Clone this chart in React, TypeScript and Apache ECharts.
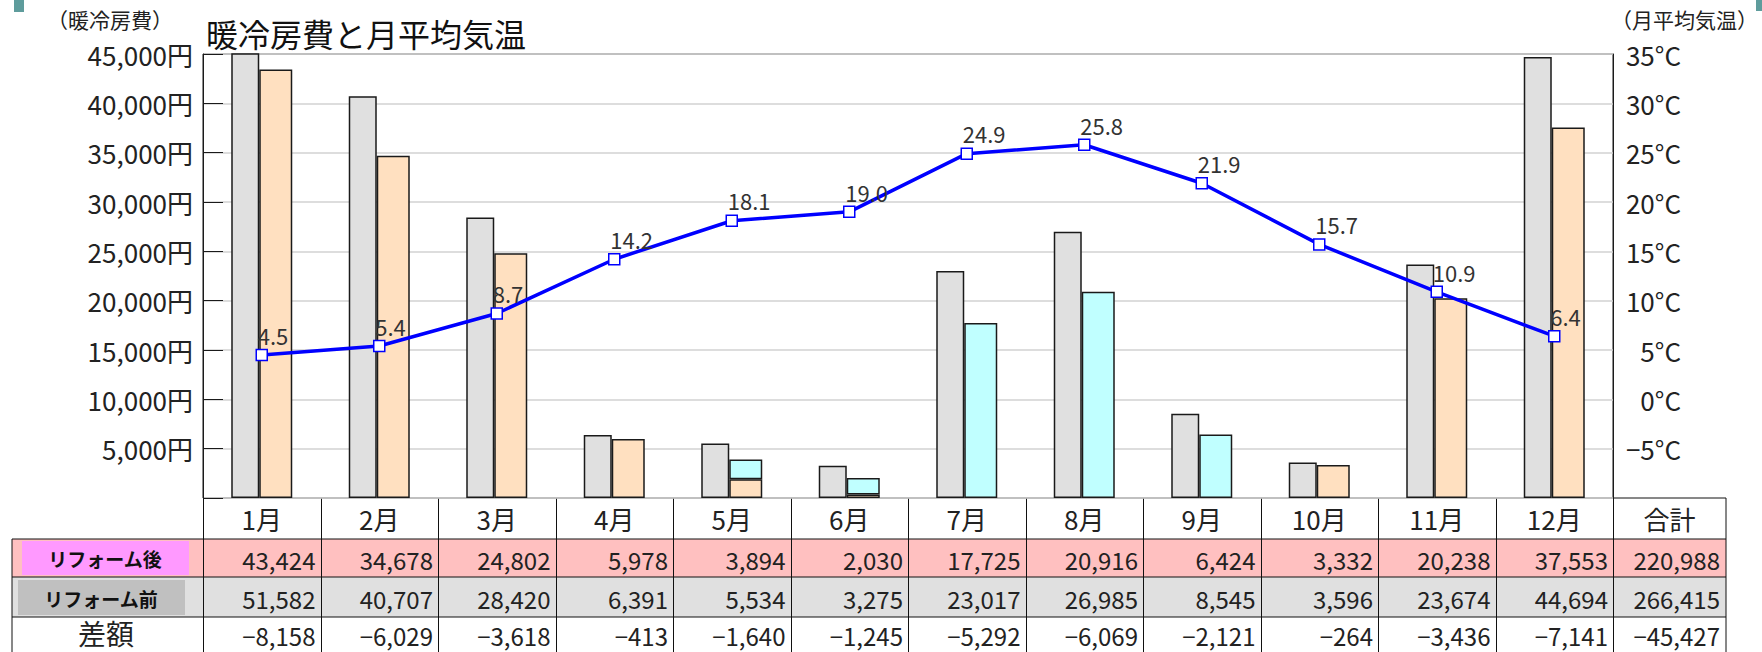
import React, { useEffect, useRef } from 'react';
import * as echarts from 'echarts';

const months = ['1月', '2月', '3月', '4月', '5月', '6月', '7月', '8月', '9月', '10月', '11月', '12月'];
const costBefore = [51582, 40707, 28420, 6391, 5534, 3275, 23017, 26985, 8545, 3596, 23674, 44694];
const costAfter = [43424, 34678, 24802, 5978, 3894, 2030, 17725, 20916, 6424, 3332, 20238, 37553];
// after-reform cost split into heating (peach) and cooling (cyan) parts
const afterHeating: (number | string)[] = [43424, 34678, 24802, 5978, 1900, 350, '-', '-', '-', 3332, 20238, 37553];
const afterCooling: (number | string)[] = ['-', '-', '-', '-', 1994, 1680, 17725, 20916, 6424, '-', '-', '-'];
const temperature = [4.5, 5.4, 8.7, 14.2, 18.1, 19.0, 24.9, 25.8, 21.9, 15.7, 10.9, 6.4];
const costDiff = [-8158, -6029, -3618, -413, -1640, -1245, -5292, -6069, -2121, -264, -3436, -7141];
const totals = { after: 220988, before: 266415, diff: -45427 };
const rowLabels = { after: 'リフォーム後', before: 'リフォーム前', diff: '差額', total: '合計' };

const FONT = "'Noto Sans CJK JP', 'Noto Sans', sans-serif";

const GRID_LEFT = 203;
const GRID_TOP = 54;
const GRID_W = 1410;
const GRID_H = 444;
const GRID_BOTTOM = GRID_TOP + GRID_H;
const TABLE_LEFT = 12;
const TOTAL_RIGHT = 1726;
const ROW_Y = [GRID_BOTTOM, 539, 577, 617, 652];

const fmt = (v: number) => {
  const s = Math.abs(v).toLocaleString('en-US');
  return v < 0 ? '−' + s : s;
};

export default function App() {
  const ref = useRef<HTMLDivElement>(null);

  useEffect(() => {
    if (!ref.current) return;
    const chart = echarts.init(ref.current, undefined, { renderer: 'svg' });
    const colW = GRID_W / months.length;

    const graphics: any[] = [];
    // decorations
    graphics.push({ type: 'rect', shape: { x: 14, y: 0, width: 10, height: 12 }, style: { fill: '#5e9c9c' } });
    graphics.push({ type: 'rect', shape: { x: 1756, y: 0, width: 6, height: 11 }, style: { fill: '#5e9c9c' } });
    // axis names
    graphics.push({
      type: 'text', x: 110, y: 19,
      style: { text: '（暖冷房費）', font: `21px ${FONT}`, fill: '#222', align: 'center', verticalAlign: 'middle' },
    });
    graphics.push({
      type: 'text', x: 1758, y: 19,
      style: { text: '（月平均気温）', font: `21px ${FONT}`, fill: '#222', align: 'right', verticalAlign: 'middle' },
    });

    // table backgrounds
    graphics.push({ type: 'rect', shape: { x: TABLE_LEFT, y: ROW_Y[1], width: TOTAL_RIGHT - TABLE_LEFT, height: ROW_Y[2] - ROW_Y[1] }, style: { fill: '#ffc0c0' } });
    graphics.push({ type: 'rect', shape: { x: TABLE_LEFT, y: ROW_Y[2], width: TOTAL_RIGHT - TABLE_LEFT, height: ROW_Y[3] - ROW_Y[2] }, style: { fill: '#e0e0e0' } });
    graphics.push({ type: 'rect', shape: { x: 22, y: 541, width: 167, height: 34 }, style: { fill: '#ff99ff' } });
    graphics.push({ type: 'rect', shape: { x: 18, y: 580, width: 167, height: 35 }, style: { fill: '#c0c0c0' } });

    // row label texts
    graphics.push({ type: 'text', x: 105, y: 558, style: { text: rowLabels.after, font: `bold 19px ${FONT}`, fill: '#111', align: 'center', verticalAlign: 'middle' } });
    graphics.push({ type: 'text', x: 101, y: 598, style: { text: rowLabels.before, font: `bold 19px ${FONT}`, fill: '#111', align: 'center', verticalAlign: 'middle' } });
    graphics.push({ type: 'text', x: 106, y: 633, style: { text: rowLabels.diff, font: `28px ${FONT}`, fill: '#222', align: 'center', verticalAlign: 'middle' } });

    const lineStyle = { stroke: '#111', lineWidth: 1 };
    // horizontal lines
    graphics.push({ type: 'line', shape: { x1: GRID_LEFT + GRID_W, y1: ROW_Y[0], x2: TOTAL_RIGHT, y2: ROW_Y[0] }, style: lineStyle });
    for (let r = 1; r <= 3; r++) {
      graphics.push({ type: 'line', shape: { x1: TABLE_LEFT, y1: ROW_Y[r], x2: TOTAL_RIGHT, y2: ROW_Y[r] }, style: lineStyle });
    }
    // vertical lines
    graphics.push({ type: 'line', shape: { x1: TABLE_LEFT, y1: ROW_Y[1], x2: TABLE_LEFT, y2: 652 }, style: lineStyle });
    for (let i = 0; i <= months.length; i++) {
      const x = Math.round(GRID_LEFT + i * colW) + 0.5;
      graphics.push({ type: 'line', shape: { x1: x, y1: ROW_Y[0], x2: x, y2: 652 }, style: lineStyle });
    }
    graphics.push({ type: 'line', shape: { x1: TOTAL_RIGHT, y1: ROW_Y[0], x2: TOTAL_RIGHT, y2: 652 }, style: lineStyle });

    const cellText = (text: string, cx: number, cy: number, align: string, size = 24) => ({
      type: 'text', x: cx, y: cy,
      style: { text, font: `${size}px ${FONT}`, fill: '#222', align, verticalAlign: 'middle' },
    });
    const rowCenters = [(ROW_Y[0] + ROW_Y[1]) / 2, (ROW_Y[1] + ROW_Y[2]) / 2 + 1, (ROW_Y[2] + ROW_Y[3]) / 2 + 1, 635];
    months.forEach((m, i) => {
      const x0 = GRID_LEFT + i * colW;
      graphics.push(cellText(m, x0 + colW / 2, rowCenters[0], 'center', 26));
      graphics.push(cellText(fmt(costAfter[i]), x0 + colW - 5, rowCenters[1], 'right'));
      graphics.push(cellText(fmt(costBefore[i]), x0 + colW - 5, rowCenters[2], 'right'));
      graphics.push(cellText(fmt(costDiff[i]), x0 + colW - 5, rowCenters[3], 'right'));
    });
    const tx0 = GRID_LEFT + GRID_W;
    graphics.push(cellText(rowLabels.total, (tx0 + TOTAL_RIGHT) / 2, rowCenters[0], 'center', 26));
    graphics.push(cellText(fmt(totals.after), TOTAL_RIGHT - 6, rowCenters[1], 'right'));
    graphics.push(cellText(fmt(totals.before), TOTAL_RIGHT - 6, rowCenters[2], 'right'));
    graphics.push(cellText(fmt(totals.diff), TOTAL_RIGHT - 6, rowCenters[3], 'right'));

    const barBorder = { borderColor: '#1a1a1a', borderWidth: 1.5 };

    chart.setOption({
      animation: false,
      backgroundColor: '#ffffff',
      textStyle: { fontFamily: FONT },
      title: {
        text: '暖冷房費と月平均気温',
        left: 206,
        top: 17,
        padding: 0,
        textStyle: { fontSize: 32, fontWeight: 'normal', color: '#111', fontFamily: FONT },
      },
      grid: {
        left: GRID_LEFT, top: GRID_TOP, width: GRID_W, height: GRID_H,
        show: true, borderColor: '#1a1a1a', borderWidth: 1, backgroundColor: '#fff',
      },
      xAxis: {
        type: 'category',
        data: months,
        axisLine: { show: false },
        axisTick: { show: false },
        axisLabel: { show: false },
        splitLine: { show: false },
      },
      yAxis: [
        {
          type: 'value', min: 0, max: 45000, interval: 5000, position: 'left',
          axisLine: { show: true, lineStyle: { color: '#1a1a1a', width: 1 } },
          axisTick: { show: true, inside: true, length: 20, lineStyle: { color: '#1a1a1a', width: 1 } },
          splitLine: { show: true, lineStyle: { color: '#d2d2d2', width: 1.5 } },
          axisLabel: {
            fontSize: 26, color: '#222', margin: 10, fontFamily: FONT,
            formatter: (v: number) => (v === 0 ? '' : v.toLocaleString('en-US') + '円'),
          },
        },
        {
          type: 'value', min: -10, max: 35, interval: 5, position: 'right',
          axisLine: { show: true, lineStyle: { color: '#1a1a1a', width: 1 } },
          axisTick: { show: false },
          splitLine: { show: false },
          axisLabel: {
            fontSize: 26, color: '#222', margin: 68, align: 'right', fontFamily: FONT,
            formatter: (v: number) => (v === -10 ? '' : (v < 0 ? '−' + Math.abs(v) : String(v)) + '°C'),
          },
        },
      ],
      series: [
        {
          name: rowLabels.before, type: 'bar', data: costBefore, barWidth: 28, barGap: '0%',
          itemStyle: { color: '#e0e0e0', ...barBorder },
        },
        {
          name: '暖房', type: 'bar', stack: 'after', data: afterHeating, barWidth: 33,
          itemStyle: { color: '#ffe0c0', ...barBorder },
        },
        {
          name: '冷房', type: 'bar', stack: 'after', data: afterCooling, barWidth: 33,
          itemStyle: { color: '#c0ffff', ...barBorder },
        },
        {
          name: '月平均気温', type: 'line', yAxisIndex: 1, data: temperature, z: 10,
          symbol: 'rect', symbolSize: 11,
          lineStyle: { color: '#0000ff', width: 3.5 },
          itemStyle: { color: '#ffffff', borderColor: '#0000ff', borderWidth: 1.5 },
          label: {
            show: true, position: 'top', align: 'left', offset: [-4, 0], distance: 3,
            fontSize: 22, color: '#333', fontFamily: FONT,
            formatter: (p: any) => Number(p.value).toFixed(1),
          },
        },
      ],
      graphic: graphics,
    });

    return () => chart.dispose();
  }, []);

  return (
    <div
      ref={ref}
      style={{ position: 'absolute', left: 0, top: 0, width: 1762, height: 652, background: '#fff' }}
    />
  );
}
